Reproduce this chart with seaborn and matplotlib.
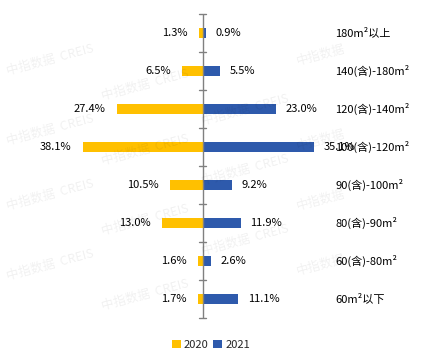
import matplotlib
matplotlib.use("Agg")
import matplotlib.pyplot as plt
import seaborn as sns
import pandas as pd
from matplotlib.patches import Patch

categories = ["180m²以上", "140(含)-180m²", "120(含)-140m²", "100(含)-120m²",
              "90(含)-100m²", "80(含)-90m²", "60(含)-80m²", "60m²以下"]
values_2020 = [1.3, 6.5, 27.4, 38.1, 10.5, 13.0, 1.6, 1.7]
values_2021 = [0.9, 5.5, 23.0, 35.1, 9.2, 11.9, 2.6, 11.1]
years = ["2020", "2021"]
colors = {"2020": "#FFC000", "2021": "#2E5AAC"}

sns.set_style("white")
plt.rcParams['font.family'] = ['Noto Sans CJK SC', 'DejaVu Sans']

df = pd.DataFrame({
    "cat": categories * 2,
    "year": ["2020"] * len(categories) + ["2021"] * len(categories),
    "val": [-v for v in values_2020] + values_2021,
})

W, H = 437, 364
fig = plt.figure(figsize=(W / 100, H / 100), dpi=100)
ax = fig.add_axes([0, 1 - 318 / H, 1, (318 - 14) / H])

sns.barplot(data=df, x="val", y="cat", hue="year", palette=colors, dodge=False,
            width=0.26, orient="h", ax=ax, legend=False, order=categories,
            saturation=1, linewidth=0)

scale = 3.155
ax.set_xlim(-203 / scale, (W - 203) / scale)
ax.set_ylim(len(categories) - 0.5, -0.5)
for s in ax.spines.values():
    s.set_visible(False)
ax.set_xticks([])
ax.set_yticks([])
ax.set_xlabel("")
ax.set_ylabel("")

# central axis with ticks
ax.axvline(0, color="#808080", lw=1)
for i in range(len(categories) + 1):
    ax.plot([-1.2, 1.0], [i - 0.5, i - 0.5], color="#808080", lw=1, clip_on=False)

fs = 8
for i, (a, b) in enumerate(zip(values_2020, values_2021)):
    ax.annotate(f"{a:.1f}%", (-a, i), xytext=(-8, 0), textcoords="offset points",
                ha="right", va="center", fontsize=fs, color="#000000")
    ax.annotate(f"{b:.1f}%", (b, i), xytext=(7, 0), textcoords="offset points",
                ha="left", va="center", fontsize=fs, color="#000000")
    ax.text((335 - 203) / scale, i, categories[i], ha="left", va="center",
            fontsize=fs, color="#000000")

# watermarks
wm = [(5, 60, "中指数据  CREIS"), (100, 85, "中指数据  CREIS"), (5, 130, "中指数据  CREIS"),
      (100, 150, "中指数据  CREIS"), (200, 110, "中指数据  CREIS"), (295, 55, "中指数据"),
      (5, 195, "中指数据  CREIS"), (100, 220, "中指数据  CREIS"), (200, 170, "中指数据  CREIS"),
      (295, 140, "中指数据"), (5, 265, "中指数据  CREIS"), (100, 295, "中指数据  CREIS"),
      (200, 240, "中指数据  CREIS"), (295, 200, "中指数据"), (295, 265, "中指数据")]
for x, y, t in wm:
    fig.text(x / W, 1 - y / H, t, fontsize=9, color="#000000", alpha=0.06,
             rotation=15, ha="left", va="center")

handles = [Patch(facecolor=colors[y], edgecolor="none") for y in years]
fig.legend(handles, years, loc="center", bbox_to_anchor=(211 / W, 1 - 345 / H),
           ncol=2, frameon=False, fontsize=8, handlelength=0.8, handleheight=0.8,
           handletextpad=0.3, columnspacing=0.4)

fig.savefig("out.png", dpi=100)
